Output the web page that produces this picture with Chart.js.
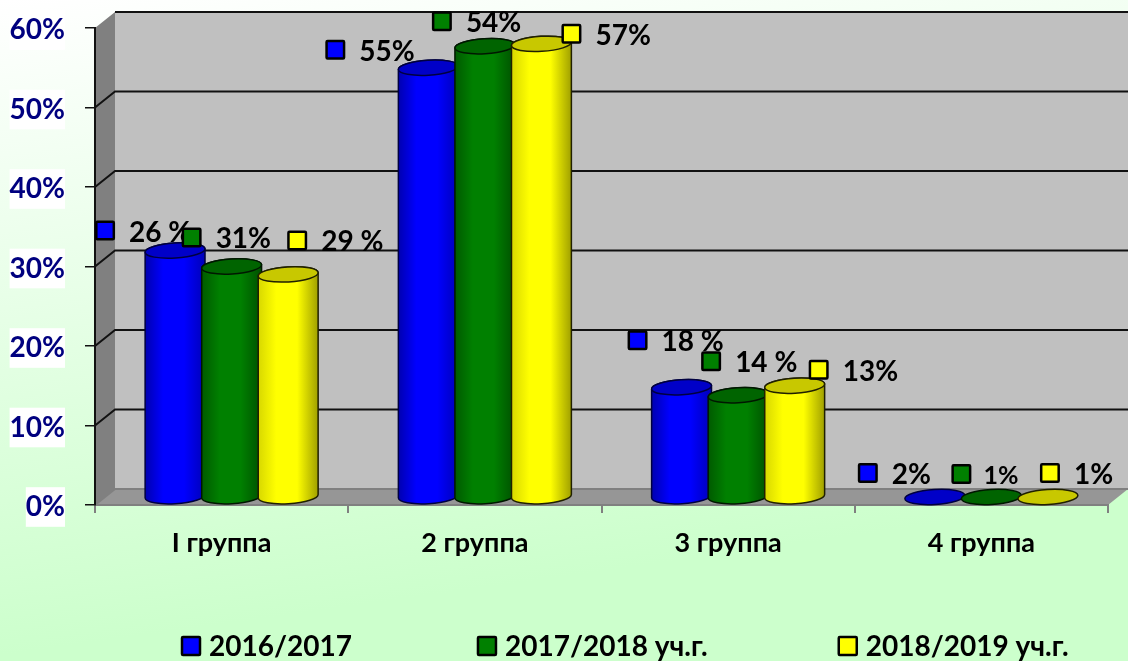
<!DOCTYPE html>
<html lang="ru">
<head>
<meta charset="utf-8">
<title>Группы</title>
<script src="https://cdn.jsdelivr.net/npm/chart.js@4"></script>
<style>
html, body { margin: 0; padding: 0; }
body { width: 1128px; height: 661px; overflow: hidden; background: linear-gradient(172deg, #ffffff 0%, #ccffcc 80%); }
canvas { display: block; }
</style>
</head>
<body>
<canvas id="grafico" width="1128" height="661"></canvas>
<script>
// Данные
const categorias = ['I группа', '2 группа', '3 группа', '4 группа'];
const nomes = ['2016/2017', '2017/2018 уч.г.', '2018/2019 уч.г.'];
const serie2016 = [31, 54, 13.8, 0];
const serie2017 = [29, 56.7, 12.8, 0];
const serie2018 = [28, 57, 14, 0];
const rotulos2016 = ['26 %', '55%', '18 %', '2%'];
const rotulos2017 = ['31%', '54%', '14 %', '1%'];
const rotulos2018 = ['29 %', '57%', '13%', '1%'];

// Estilos
const FONTE = 'Lato, "Open Sans", sans-serif';
const cores = [
    { lado: ['#0000b0', '#0000ff', '#0000ff', '#0000b8'], topo: '#0000c8', linha: '#000040', chave: '#0000ff' },
    { lado: ['#005a00', '#008000', '#008000', '#005000'], topo: '#006400', linha: '#001800', chave: '#008000' },
    { lado: ['#d8d800', '#ffff00', '#ffff00', '#a0a000'], topo: '#c8c800', linha: '#202000', chave: '#ffff00' }
];
const rotulos = [rotulos2016, rotulos2017, rotulos2018];
// deslocamento dos rótulos em relação ao topo da barra
const ajustes = [
    [[-60, -28], [-83, -26], [-34, -55], [-57, -32]],
    [[-30, -37], [-33, -33], [-17, -42], [-20, -31]],
    [[19, -42], [40, -18], [34, -24], [12, -32]]
];
const espacosLegenda = [126, 131];
const DX = 20, DY = 16; // profundidade do 3D

function chave(ctx, cx, cy, cor, lado) {
    ctx.fillStyle = cor;
    ctx.strokeStyle = '#000';
    ctx.lineWidth = 2.5;
    ctx.beginPath();
    ctx.roundRect(cx - lado / 2, cy - lado / 2, lado, lado, 1);
    ctx.fill();
    ctx.stroke();
}

// Paredes e linhas de grade
const paredes = {
    id: 'paredes',
    beforeDraw(chart) {
        const { ctx, chartArea: a, scales: { y } } = chart;
        ctx.save();
        ctx.fillStyle = '#c0c0c0';
        ctx.fillRect(a.left + DX, a.top - DY, a.right - a.left, a.bottom - a.top);
        ctx.fillStyle = '#808080';
        ctx.beginPath();
        ctx.moveTo(a.left, a.top);
        ctx.lineTo(a.left + DX, a.top - DY);
        ctx.lineTo(a.left + DX, a.bottom - DY);
        ctx.lineTo(a.left, a.bottom);
        ctx.closePath();
        ctx.fill();
        ctx.fillStyle = '#969696';
        ctx.beginPath();
        ctx.moveTo(a.left, a.bottom);
        ctx.lineTo(a.left + DX, a.bottom - DY);
        ctx.lineTo(a.right + DX, a.bottom - DY);
        ctx.lineTo(a.right, a.bottom);
        ctx.closePath();
        ctx.fill();
        ctx.lineWidth = 2;
        y.ticks.forEach(t => {
            const py = y.getPixelForValue(t.value);
            ctx.strokeStyle = t.value === 0 ? '#808080' : '#111';
            ctx.beginPath();
            if (t.value === y.max) {
                ctx.moveTo(a.left + DX, py - DY);
            } else {
                ctx.moveTo(a.left, py);
                ctx.lineTo(a.left + DX, py - DY);
            }
            ctx.lineTo(a.right + DX, py - DY);
            ctx.stroke();
        });
        ctx.restore();
    }
};

// Cilindros, rótulos e legenda
const cilindros = {
    id: 'cilindros',
    beforeDatasetsDraw(chart) {
        const { ctx } = chart;
        ctx.save();
        const inclinacao = -0.06;
        const ry = 7.5;
        chart.data.datasets.forEach((ds, i) => {
            chart.getDatasetMeta(i).data.forEach(el => {
                const rx = 30;
                const cx = el.x + DX / 2;
                const base = el.base - DY / 2;
                const topo = el.y - DY / 2;
                const c = cores[i];
                ctx.lineWidth = 1.5;
                ctx.strokeStyle = c.linha;
                if (base - topo > 1) {
                    const g = ctx.createLinearGradient(cx - rx, 0, cx + rx, 0);
                    g.addColorStop(0, c.lado[0]);
                    g.addColorStop(0.3, c.lado[1]);
                    g.addColorStop(0.65, c.lado[2]);
                    g.addColorStop(1, c.lado[3]);
                    ctx.fillStyle = g;
                    ctx.beginPath();
                    ctx.ellipse(cx, base, rx, ry, inclinacao, 0, Math.PI);
                    ctx.ellipse(cx, topo, rx, ry, inclinacao, Math.PI, 2 * Math.PI);
                    ctx.closePath();
                    ctx.fill();
                    ctx.stroke();
                }
                ctx.fillStyle = c.topo;
                ctx.beginPath();
                ctx.ellipse(cx, topo, rx, ry, inclinacao, 0, 2 * Math.PI);
                ctx.fill();
                ctx.stroke();
            });
        });

        ctx.textBaseline = 'middle';
        ctx.textAlign = 'left';
        chart.data.datasets.forEach((ds, i) => {
            chart.getDatasetMeta(i).data.forEach((el, j) => {
                const mx = el.x + ajustes[i][j][0];
                const my = el.y + ajustes[i][j][1];
                chave(ctx, mx, my, cores[i].chave, 17.5);
                ctx.fillStyle = '#000';
                ctx.font = (i === 1 && j === 3 ? 'bold 25px ' : 'bold 28px ') + FONTE;
                ctx.fillText(rotulos[i][j], mx + (i === 1 && j === 3 ? 22 : 24), my + 2);
            });
        });

        // legenda
        let x = 182;
        const ly = 646;
        ctx.font = 'bold 28px ' + FONTE;
        nomes.forEach((n, i) => {
            chave(ctx, x + 9, ly, cores[i].chave, 18);
            ctx.fillStyle = '#000';
            ctx.fillText(n, x + 27, ly + 1);
            x += 27 + ctx.measureText(n).width + espacosLegenda[i];
        });
        ctx.restore();
        return false;
    }
};

new Chart(document.getElementById('grafico'), {
    type: 'bar',
    data: {
        labels: categorias,
        datasets: [
            { label: nomes[0], data: serie2016, backgroundColor: '#0000ff' },
            { label: nomes[1], data: serie2017, backgroundColor: '#008000' },
            { label: nomes[2], data: serie2018, backgroundColor: '#ffff00' }
        ]
    },
    options: {
        responsive: false,
        animation: false,
        layout: { padding: { top: 28, right: 20 } },
        datasets: { bar: { categoryPercentage: 0.67, barPercentage: 1 } },
        plugins: { legend: { display: false }, tooltip: { enabled: false } },
        scales: {
            x: {
                afterFit(s) { s.height = 156; },
                grid: { drawOnChartArea: false, color: '#808080', lineWidth: 2, tickLength: 8 },
                border: { color: '#808080', width: 2 },
                ticks: { color: '#000', padding: 14, font: { family: FONTE, size: 27, weight: 'bold' } }
            },
            y: {
                min: 0,
                max: 60,
                afterFit(s) { s.width = 95; s.paddingTop = 0; },
                grid: { drawOnChartArea: false, color: '#111', lineWidth: 1.5, tickLength: 10 },
                border: { color: '#111', width: 2 },
                ticks: {
                    stepSize: 10,
                    color: '#00007f',
                    padding: 20,
                    labelOffset: 2,
                    showLabelBackdrop: true,
                    backdropColor: '#fff',
                    backdropPadding: { x: 0, y: 3 },
                    font: { family: FONTE, size: 28, weight: 'bold' },
                    callback: v => v + '%'
                }
            }
        }
    },
    plugins: [paredes, cilindros]
});
</script>
</body>
</html>
